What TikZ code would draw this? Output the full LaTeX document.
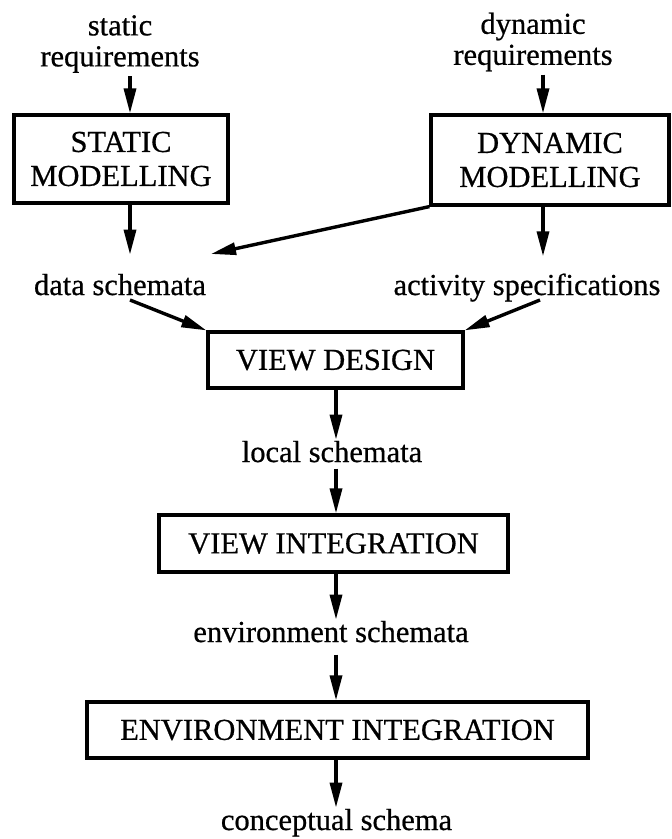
\documentclass[tikz,border=0pt]{standalone}
\usepackage{fontspec}
\setmainfont{Liberation Serif}[FakeBold=0.6]
\usetikzlibrary{arrows.meta}
\begin{document}
\begin{tikzpicture}[x=1pt,y=-1pt,
  every node/.style={font=\fontsize{30.5}{33}\selectfont},
  lbl/.style={inner sep=0pt, anchor=base},
  twolbl/.style={inner sep=0pt, align=center},
  box/.style={draw, line width=3.2pt, inner sep=0pt, align=center},
  arr/.style={line width=3.4pt, -{Triangle[length=25pt,width=12pt]}},
  ]
\useasboundingbox (0,0) rectangle (672,839);
% columns for the arrows
\coordinate (colS) at (130,0);
\coordinate (colD) at (543,0);
\coordinate (colM) at (336,0);
% labels and boxes
\node[twolbl] (sreq) at (120,44) {static\\[-2pt]requirements};
\node[twolbl] (dreq) at (533,42) {dynamic\\[-2pt]requirements};
\node[box, minimum width=214pt, minimum height=88pt] (smod) at (121,159) {STATIC\\[1pt]MODELLING};
\node[box, minimum width=238pt, minimum height=90pt] (dmod) at (550,160) {DYNAMIC\\[1pt]MODELLING};
\node[lbl] (data) at (120,295) {data schemata};
\node[lbl] (act) at (527,295) {activity specifications};
\node[box, minimum width=255pt, minimum height=56pt] (vdes) at (335.5,360) {VIEW DESIGN};
\node[lbl] (local) at (332,462) {local schemata};
\node[box, minimum width=349pt, minimum height=57pt] (vint) at (333.5,543.5) {VIEW INTEGRATION};
\node[lbl] (env) at (331,642) {environment schemata};
\node[box, minimum width=501pt, minimum height=56pt] (eint) at (337.5,730) {ENVIRONMENT INTEGRATION};
\node[lbl] (conc) at (336.5,830) {conceptual schema};
% free ends of the slanted connectors
\coordinate (dtip) at (211,254);
\coordinate (dtail) at (130,300);
\coordinate (atail) at (540,300);
% connectors
\draw[arr, shorten <=3pt] (sreq.south -| colS) -- (smod.north -| colS);
\draw[arr, shorten >=19pt] (smod.south -| colS) -- (data.north -| colS);
\draw[arr, shorten <=3pt] (dreq.south -| colD) -- (dmod.north -| colD);
\draw[arr, shorten >=17pt] (dmod.south -| colD) -- (act.north -| colD);
\draw[arr] (dmod.south west) -- (dtip);
\draw[arr] (dtail) -- (vdes.north west);
\draw[arr] (atail) -- (vdes.north east);
\draw[arr, shorten >=1pt] (vdes.south -| colM) -- (local.north -| colM);
\draw[arr, shorten <=6pt] (local.south -| colM) -- (vint.north -| colM);
\draw[arr, shorten >=1pt] (vint.south -| colM) -- (env.north -| colM);
\draw[arr, shorten <=12pt] (env.south -| colM) -- (eint.north -| colM);
\draw[arr, shorten >=1pt] (eint.south -| colM) -- (conc.north -| colM);
\end{tikzpicture}
\end{document}
